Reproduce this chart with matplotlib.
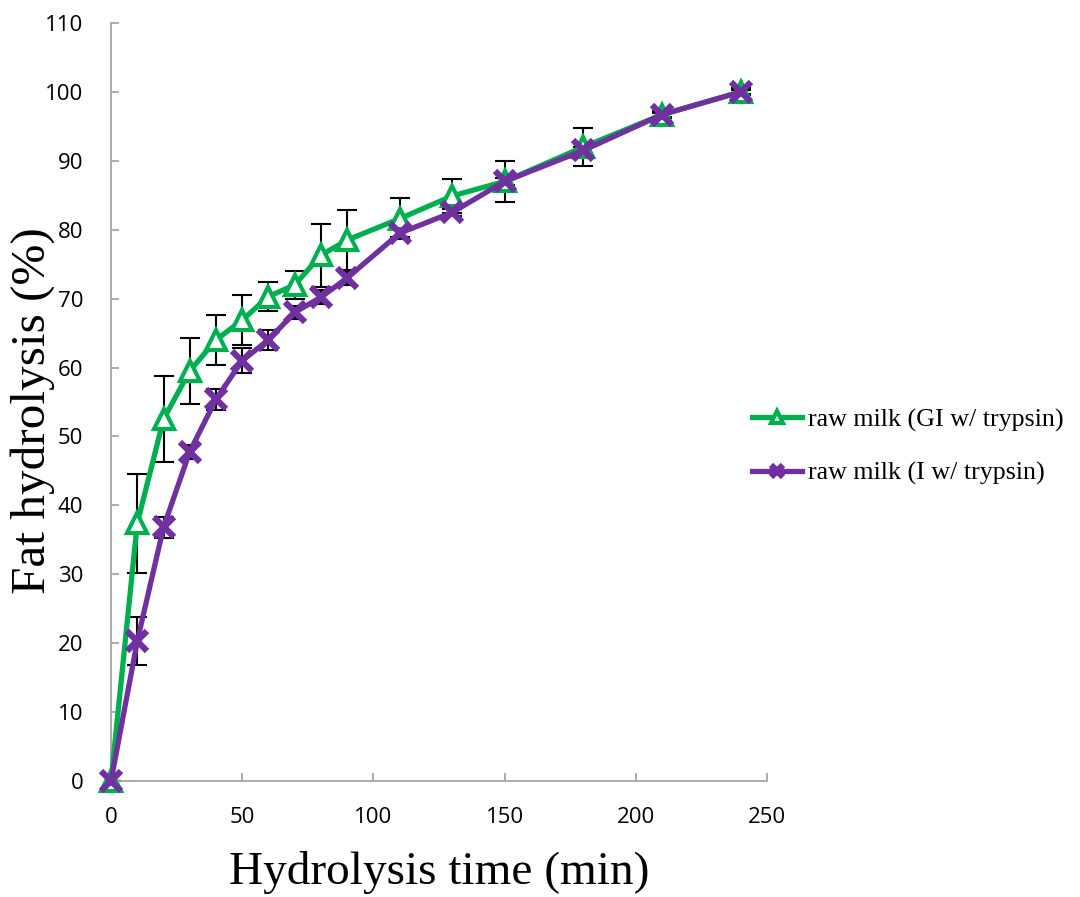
import matplotlib.pyplot as plt

# hydrolysis data
time_min = [0, 10, 20, 30, 40, 50, 60, 70, 80, 90, 110, 130, 150, 180, 210, 240]
gi_tryp = [0, 37.4, 52.5, 59.5, 64.0, 66.9, 70.3, 72.0, 76.3, 78.5, 81.6, 84.9, 87.0, 92.0, 96.7, 100.0]
gi_err = [0, 7.2, 6.2, 4.8, 3.6, 3.6, 2.1, 2.0, 4.6, 4.3, 3.0, 2.5, 3.0, 2.7, 0.5, 0.5]
i_tryp = [0, 20.3, 36.8, 47.8, 55.4, 61.0, 64.0, 68.0, 70.2, 73.0, 79.5, 82.5, 87.0, 91.5, 96.7, 100.0]
i_err = [0, 3.5, 1.5, 1.0, 1.5, 1.8, 1.5, 1.0, 1.0, 1.0, 0.5, 0.5, 0.5, 0.5, 0.3, 0.3]

green = '#00B050'
purple = '#7030A0'

fig = plt.figure(figsize=(10.8, 8.97), dpi=100)
ax = fig.add_axes([0.1028, 0.1293, 0.6074, 0.8451])

# error bars first so the markers sit on top of them
ax.errorbar(time_min, gi_tryp, yerr=gi_err, fmt='none', ecolor='black',
            elinewidth=1.5, capsize=7, capthick=1.5, zorder=1)
ax.errorbar(time_min, i_tryp, yerr=i_err, fmt='none', ecolor='black',
            elinewidth=1.5, capsize=7, capthick=1.5, zorder=1)

ax.plot(time_min, gi_tryp, color=green, lw=3.8, marker='^', ms=15,
        mfc='white', mec=green, mew=3, label='raw milk (GI w/ trypsin)',
        zorder=3, clip_on=False)
ax.plot(time_min, i_tryp, color=purple, lw=3.8, marker='x', ms=15,
        mec=purple, mew=4.5, label='raw milk (I w/ trypsin)',
        zorder=4, clip_on=False)

ax.set_xlim(0, 250)
ax.set_ylim(0, 110)
ax.set_xticks(range(0, 251, 50))
ax.set_yticks(range(0, 111, 10))

for s in ['top', 'right']:
    ax.spines[s].set_visible(False)
for s in ['left', 'bottom']:
    ax.spines[s].set_color('#A6A6A6')
    ax.spines[s].set_linewidth(1.3)
ax.tick_params(direction='in', length=6, width=1.3, color='#A6A6A6', labelsize=16)
ax.tick_params(axis='x', pad=19)
ax.tick_params(axis='y', pad=20)
for lab in ax.get_xticklabels() + ax.get_yticklabels():
    lab.set_family('Open Sans')

ax.set_xlabel('Hydrolysis time (min)', family='Liberation Serif', fontsize=34, labelpad=16)
ax.set_ylabel('Fat hydrolysis (%)', family='Liberation Serif', fontsize=35.5)
ax.yaxis.set_label_coords(-0.085, 0.489)

ax.legend(loc='center left', bbox_to_anchor=(0.942, 0.441), frameon=False,
          prop={'family': 'Liberation Serif', 'size': 18.7}, handlelength=1.9,
          handletextpad=0.25, labelspacing=1.15, markerscale=0.6)

fig.savefig('out.png', dpi=100)
